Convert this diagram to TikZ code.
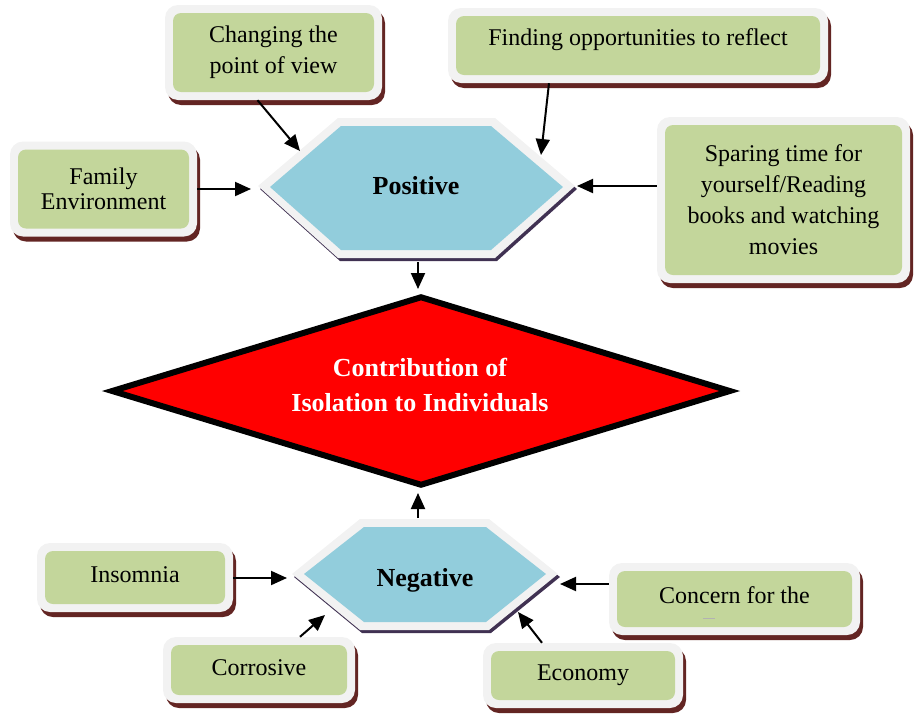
\documentclass[tikz,border=0pt]{standalone}
\usepackage{fontspec}
\setmainfont{Liberation Serif}
\usetikzlibrary{shapes.geometric,shadows,arrows.meta,calc}
\definecolor{boxgreen}{HTML}{C3D69B}
\definecolor{framegray}{HTML}{F2F2F2}
\definecolor{shadowred}{HTML}{632523}
\definecolor{hexblue}{HTML}{92CDDC}
\definecolor{hexshadow}{HTML}{403152}
\tikzset{
  greenbox/.style={rectangle, rounded corners=13pt, fill=framegray, draw=none,
    drop shadow={shadow xshift=3pt, shadow yshift=-5pt, fill=shadowred, opacity=1},
    align=center, inner sep=0pt, font=\fontsize{24}{31}\selectfont,
    path picture={\fill[boxgreen, rounded corners=8pt]
      ($(path picture bounding box.south west)+(8pt,8pt)$) rectangle
      ($(path picture bounding box.north east)+(-8pt,-8pt)$);}},
  boxtext/.style={align=center, inner sep=0pt, font=\fontsize{24}{31}\selectfont},
  link/.style={line width=2pt, -{Triangle[length=16pt,width=14pt]}},
  hexlabel/.style={inner sep=0pt, font=\bfseries\fontsize{26}{30}\selectfont},
}
\begin{document}
\begin{tikzpicture}[x=1pt, y=-1pt]
\useasboundingbox (0,0) rectangle (914,713);

% Positive hexagon
\fill[hexshadow, shift={(2,3)}] (258,186) -- (338,118) -- (495,118) -- (575,186) -- (495,258) -- (338,258) -- cycle;
\fill[framegray] (258,186) -- (338,118) -- (495,118) -- (575,186) -- (495,258) -- (338,258) -- cycle;
\fill[hexblue] (270,187) -- (341,126) -- (491,126) -- (563,187) -- (491,250) -- (341,250) -- cycle;
\node[hexlabel] (pos) at (416,186) {Positive};

% Negative hexagon
\fill[hexshadow, shift={(2,3)}] (292,574) -- (360,519) -- (489,519) -- (558,574) -- (489,630) -- (360,630) -- cycle;
\fill[framegray] (292,574) -- (360,519) -- (489,519) -- (558,574) -- (489,630) -- (360,630) -- cycle;
\fill[hexblue] (304,574) -- (364,527) -- (486,527) -- (546,574) -- (486,622) -- (364,622) -- cycle;
\node[hexlabel] (neg) at (425,580) {Negative};

% Central diamond
\node[diamond, draw=black, line width=6pt, fill=red, minimum width=620pt, minimum height=190pt,
      inner sep=0pt, aspect=3.3] (contrib) at (421,391) {};
\node[text=white, align=center, inner sep=0pt, font=\bfseries\fontsize{26}{35}\selectfont]
  (contribtxt) at (420,385) {Contribution of\\Isolation to Individuals};

% Boxes
\node[greenbox, minimum width=217pt, minimum height=95pt] (chg) at (273.5,52.5) {Changing the\\point of view};
\node[greenbox, minimum width=380pt, minimum height=75pt] (find) at (638,45.5) {};
\node[boxtext] (findtxt) at (638,40) {Finding opportunities to reflect};
\node[greenbox, minimum width=187pt, minimum height=95pt, font=\fontsize{24}{25.5}\selectfont] (fam) at (103.5,189) {Family\\Environment};
\node[greenbox, minimum width=253pt, minimum height=166pt] (spar) at (783.5,200) {Sparing time for\\yourself/Reading\\books and watching\\movies};
\node[greenbox, minimum width=196pt, minimum height=69pt] (ins) at (135,577.5) {};
\node[boxtext] (instxt) at (135,575) {Insomnia};
\node[greenbox, minimum width=192pt, minimum height=66pt] (cor) at (259,670) {};
\node[boxtext] (cortxt) at (259,668) {Corrosive};
\node[greenbox, minimum width=251pt, minimum height=72pt] (con) at (734.5,599) {};
\node[boxtext] (context) at (734.5,595) {Concern for the};
\draw[gray!60, line width=0.6pt] (703,618) -- (715,618);
\node[greenbox, minimum width=200pt, minimum height=65pt] (eco) at (583,675.5) {Economy};

% Arrow targets on the hexagons
\coordinate (posChg) at (300,151);
\coordinate (posFind) at (541,155);
\coordinate (posFam) at (251,189);
\coordinate (posSpar) at (577,186);
\coordinate (posBot) at (418,262);
\coordinate (negTop) at (418,518);
\coordinate (negIns) at (287,578);
\coordinate (negCon) at (560,584);
\coordinate (negCor) at (325,615);
\coordinate (negEco) at (518,612);

% Connectors
\draw[link] ([xshift=-16pt]chg.south) -- (posChg);
\draw[link] ([xshift=-89pt]find.south) -- (posFind);
\draw[link] (fam.east) -- (posFam);
\draw[link] ([yshift=14pt]spar.west) -- (posSpar);
\draw[link, shorten >=4pt] (posBot) -- (posBot |- contrib.north);
\draw[link, shorten >=4pt] (negTop) -- (negTop |- contrib.south);
\draw[link] ([yshift=-0.5pt]ins.east) -- (negIns);
\draw[link] ([yshift=15pt]con.west) -- (negCon);
\draw[link] ([xshift=41pt]cor.north) -- (negCor);
\draw[link] ([xshift=-41pt]eco.north) -- (negEco);
\end{tikzpicture}
\end{document}
